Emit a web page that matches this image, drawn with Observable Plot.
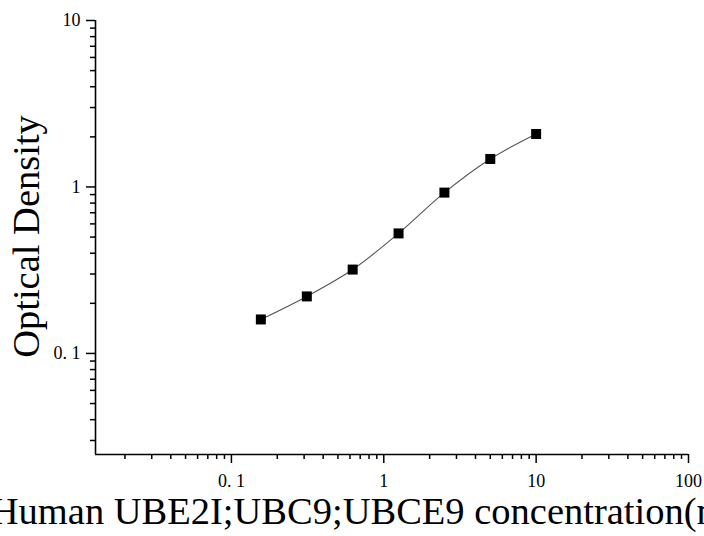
<!DOCTYPE html>
<html>
<head>
<meta charset="utf-8">
<script src="https://cdn.jsdelivr.net/npm/d3@7"></script>
<script src="https://cdn.jsdelivr.net/npm/@observablehq/plot@0.6"></script>
<style>
  html, body { margin: 0; padding: 0; background: #fff; overflow: hidden; }
  svg { overflow: visible; }
  svg text { font-family: "Liberation Serif", "Times New Roman", "DejaVu Serif", serif !important; }
</style>
</head>
<body>
<div id="chart"></div>
<script>
// Data
const concentration = [0.156, 0.3125, 0.625, 1.25, 2.5, 5, 10];
const opticalDensity = [0.160, 0.220, 0.319, 0.526, 0.925, 1.473, 2.08];
const xMajorTicks = [0.1, 1, 10, 100];
const xMinorTicks = [0.02,0.03,0.04,0.05,0.06,0.07,0.08,0.09,0.2,0.3,0.4,0.5,0.6,0.7,0.8,0.9,2,3,4,5,6,7,8,9,20,30,40,50,60,70,80,90];
const yMajorTicks = [0.1, 1, 10];
const yMinorTicks = [0.03,0.04,0.05,0.06,0.07,0.08,0.09,0.2,0.3,0.4,0.5,0.6,0.7,0.8,0.9,2,3,4,5,6,7,8,9];
const xDomain = [0.01282, 100];
const yDomain = [0.02471, 10];
const xTitle = "Human UBE2I;UBC9;UBCE9 concentration(ng/ml)";
const yTitle = "Optical Density";
const fmt = d => d === 0.1 ? "0. 1" : String(d);

const data = concentration.map((c, i) => ({x: c, y: opticalDensity[i]}));
const font = "Liberation Serif";

const chart = Plot.plot({
  width: 704,
  height: 536,
  marginLeft: 95,
  marginRight: 16,
  marginTop: 20,
  marginBottom: 82,
  style: {fontFamily: font, background: "#fff", color: "#000", overflow: "visible"},
  x: {type: "log", domain: xDomain},
  y: {type: "log", domain: yDomain},
  marks: [
    Plot.axisX({ticks: xMajorTicks, tickFormat: fmt, tickSize: 9, tickPadding: 11, fontSize: 18, strokeWidth: 1.5, label: null}),
    Plot.axisX({ticks: xMinorTicks, tickFormat: () => "", tickSize: 5, strokeWidth: 1.5, label: null}),
    Plot.axisY({ticks: yMajorTicks, tickFormat: fmt, tickSize: 9, tickPadding: 6, fontSize: 18, strokeWidth: 1.5, label: null}),
    Plot.axisY({ticks: yMinorTicks, tickFormat: () => "", tickSize: 5, strokeWidth: 1.5, label: null}),
    Plot.ruleX([xDomain[0]], {stroke: "#000", strokeWidth: 1.6}),
    Plot.ruleY([yDomain[0]], {stroke: "#000", strokeWidth: 1.6}),
    Plot.line(data, {x: "x", y: "y", curve: "catmull-rom", stroke: "#555", strokeWidth: 1.1}),
    Plot.dot(data, {x: "x", y: "y", symbol: "square", r: 5.64, fill: "#000", stroke: "none"}),
    Plot.text([xTitle], {frameAnchor: "bottom", textAnchor: "middle", lineAnchor: "bottom", dy: 69, dx: 3, fontSize: 38.5, fill: "#000"}),
    Plot.text([yTitle], {frameAnchor: "left", textAnchor: "middle", lineAnchor: "bottom", rotate: -90, dx: -57, dy: -1, fontSize: 38.5, fill: "#000"})
  ]
});
document.getElementById("chart").appendChild(chart);
</script>
</body>
</html>
